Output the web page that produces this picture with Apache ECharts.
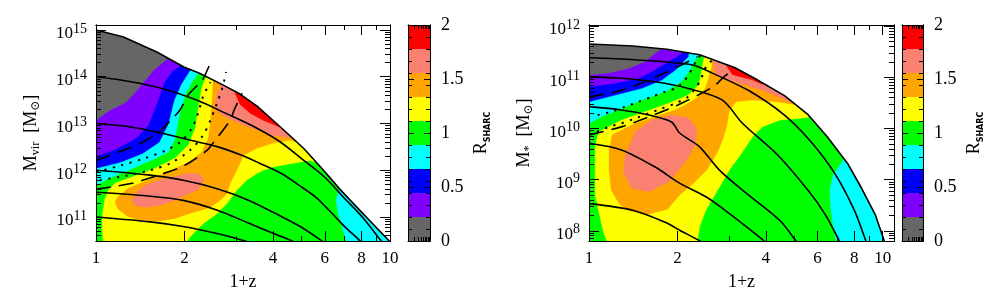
<!DOCTYPE html>
<html><head><meta charset="utf-8">
<script src="https://cdn.jsdelivr.net/npm/echarts@6/dist/echarts.min.js"></script>
<style>html,body{margin:0;padding:0;background:#fff}#c{width:997px;height:305px}</style>
</head><body><div id="c"></div>
<script>
// ---------- tick labels ----------
const xTickLabels = [1, 2, 4, 6, 8, 10];
const xMinorTicks = [3, 5, 7, 9];
const yTicksHalo = [1e11, 1e12, 1e13, 1e14, 1e15];
const yTicksStar = [1e8, 1e9, 1e10, 1e11, 1e12];
const cbTickLabels = [0, 0.5, 1, 1.5, 2];
const cbLevels = [0, 0.222, 0.444, 0.667, 0.889, 1.111, 1.333, 1.556, 1.778, 2];
const cbColors = ['#666666', '#7f00ff', '#0000ff', '#00ffff', '#00ff00', '#ffff00', '#ffa500', '#fa8072', '#ff0000'];

// ---------- left panel (halo mass), points are [1+z, log10 M] ----------
const haloEnvelope = [[1.00,15.00],[1.24,14.85],[1.61,14.53],[1.99,14.21],[2.26,14.07],[2.71,13.82],[3.09,13.63],[3.53,13.37],[4.23,12.93],[5.08,12.47],[5.94,12.00],[6.76,11.59],[7.71,11.21],[8.78,10.84],[10.0,10.47]];
const haloGreen = [[0.9,10.3],[12,10.3],[12,16],[0.9,16]];
const haloYellow = [[2.39,14.6],[2.37,13.99],[2.35,13.95],[2.29,13.76],[2.23,13.33],[2.175,12.90],[2.06,12.535],[1.86,12.26],[1.59,12.04],[1.29,11.83],[1.16,11.72],[1.10,11.57],[1.07,11.36],[1.05,11.04],[1.05,10.72],[1.06,10.46],[1.06,10.3],[2.03,10.3],[2.03,10.46],[2.09,10.57],[2.14,10.64],[2.32,10.86],[2.58,11.07],[2.79,11.29],[3.01,11.57],[3.26,11.79],[3.525,11.93],[3.71,12.00],[4.01,12.07],[4.575,12.14],[5.35,12.21],[5.62,12.16],[5.2,13.0]];
const haloOrange = [[2.50,14.4],[2.50,13.82],[2.48,13.46],[2.45,13.03],[2.41,12.685],[2.29,12.385],[2.06,12.17],[1.76,11.96],[1.505,11.79],[1.29,11.615],[1.19,11.44],[1.16,11.315],[1.19,11.165],[1.28,11.015],[1.41,10.93],[1.63,10.91],[1.86,10.97],[2.09,11.08],[2.26,11.14],[2.45,11.21],[2.645,11.36],[2.79,11.50],[2.86,11.72],[3.01,12.00],[3.09,12.15],[3.17,12.32],[3.53,12.47],[4.00,12.58],[4.575,12.64],[4.83,12.60],[4.6,13.3]];
const haloSalmonBlob = [[1.32,11.34],[1.38,11.53],[1.47,11.68],[1.65,11.79],[1.86,11.87],[2.09,11.94],[2.26,11.91],[2.33,11.79],[2.23,11.59],[2.01,11.465],[1.83,11.34],[1.65,11.25],[1.49,11.21],[1.37,11.23]];
const haloSalmonTop = [[2.66,14.2],[2.645,13.76],[2.58,13.61],[2.54,13.41],[2.60,13.24],[2.815,13.11],[3.09,13.00],[3.53,12.86],[4.00,12.75],[4.66,12.69],[4.4,13.4]];
const haloRed = [[2.97,14.0],[2.97,13.65],[3.09,13.41],[3.345,13.22],[3.70,13.07],[4.23,12.92],[4.1,13.5]];
const haloCyanRight = [[6.71,11.61],[6.555,11.36],[6.66,11.08],[6.87,10.78],[7.145,10.46],[7.2,10.3],[12,10.3],[12,12.5],[6.9,12.2]];
const haloCyan = [[2.3,14.8],[2.24,14.08],[2.12,13.89],[2.01,13.61],[1.91,13.11],[1.86,12.68],[1.765,12.39],[1.59,12.25],[1.29,12.00],[1.10,11.82],[1.0,11.67],[0.9,11.67],[0.9,16],[2.3,16]];
const haloBlue = [[2.12,14.8],[2.09,14.14],[1.95,13.84],[1.845,13.50],[1.76,12.985],[1.64,12.60],[1.44,12.36],[1.21,12.17],[1.0,12.04],[0.9,12.04],[0.9,16],[2.12,16]];
const haloPurple = [[1.97,14.8],[1.95,14.25],[1.82,14.12],[1.71,13.88],[1.62,13.46],[1.505,12.96],[1.37,12.685],[1.15,12.43],[1.0,12.30],[0.9,12.30],[0.9,16],[1.97,16]];
const haloGray = [[1.79,14.8],[1.765,14.40],[1.57,14.14],[1.41,13.78],[1.27,13.46],[1.12,13.29],[1.0,13.07],[0.9,13.07],[0.9,16],[1.79,16]];
const haloTracks = [
  [[1.0,14.0],[1.3,13.9],[1.7,13.74],[2.2,13.5],[2.8,13.2],[3.4,12.95],[4.2,12.62],[5.0,12.25],[6.0,11.85],[7.0,11.4],[8.1,10.98],[9.3,10.5],[9.5,10.42]],
  [[1.0,13.0],[1.3,12.93],[1.68,12.79],[2.1,12.64],[2.6,12.5],[3.1,12.33],[3.6,12.15],[4.3,11.92],[4.9,11.68],[5.6,11.42],[6.3,11.1],[7.0,10.8],[7.9,10.49],[8.1,10.4]],
  [[1.0,12.0],[1.5,11.9],[2.0,11.78],[2.6,11.6],[3.3,11.36],[4.3,11.0],[5.0,10.78],[5.86,10.49],[6.0,10.44]],
  [[1.0,11.53],[1.5,11.45],[2.0,11.35],[2.6,11.14],[3.3,10.87],[4.0,10.65],[4.63,10.49],[4.8,10.44]],
  [[1.0,11.0],[1.53,10.895],[2.0,10.79],[2.58,10.645],[3.2,10.49],[3.35,10.44]]
];
const haloDashed = [
  [[1.0,12.21],[1.29,12.47],[1.44,12.60],[1.63,12.81],[1.82,13.11],[1.93,13.285],[2.06,13.61],[2.30,13.93],[2.39,14.14],[2.45,14.29]],
  [[1.0,11.59],[1.33,11.72],[1.45,11.79],[1.90,12.04],[2.09,12.17],[2.39,12.43],[2.50,12.58],[2.86,13.07],[2.95,13.285],[3.14,13.65]]
];
const haloDotted = [
  [[1.0,11.96],[1.21,12.1],[1.47,12.26],[1.72,12.42],[1.93,12.6],[2.12,12.9],[2.23,13.24],[2.315,13.585],[2.45,13.88]],
  [[1.03,11.79],[1.26,11.88],[1.53,12.0],[1.79,12.15],[2.09,12.43],[2.315,12.75],[2.45,13.07],[2.58,13.435],[2.69,13.76],[2.77,14.1]]
];

// ---------- right panel (stellar mass), points are [1+z, log10 M] ----------
const starEnvelope = [[1.0,11.65],[1.41,11.61],[1.84,11.545],[2.38,11.44],[3.13,11.19],[3.66,10.98],[4.63,10.64],[5.545,10.28],[6.485,9.83],[7.585,9.32],[8.46,8.84],[9.445,8.31],[10.13,7.80]];
const starGreen = [[0.9,7.5],[12,7.5],[12,13],[0.9,13]];
const starYellow = [[2.5,12.2],[2.49,11.436],[2.455,11.34],[2.42,11.11],[2.36,10.85],[2.18,10.654],[1.87,10.49],[1.555,10.327],[1.295,10.164],[1.08,9.935],[1.05,9.675],[1.05,9.35],[1.05,8.70],[1.087,8.305],[1.12,7.97],[1.15,7.80],[1.15,7.6],[2.34,7.6],[2.34,7.78],[2.38,8.08],[2.50,8.40],[2.70,8.73],[3.01,9.19],[3.25,9.45],[3.61,9.84],[3.90,10.03],[4.45,10.16],[5.26,10.20],[5.6,10.22],[5.3,11.0]];
const starOrange = [[2.62,12.2],[2.62,11.21],[2.59,11.11],[2.555,10.98],[2.49,10.785],[2.36,10.62],[2.18,10.49],[1.97,10.36],[1.68,10.23],[1.40,10.07],[1.20,9.87],[1.17,9.58],[1.17,9.19],[1.19,8.795],[1.27,8.52],[1.375,8.385],[1.58,8.32],[1.85,8.42],[2.035,8.70],[2.25,8.91],[2.52,9.19],[2.73,9.52],[2.85,9.77],[2.94,10.03],[3.01,10.36],[3.17,10.52],[3.59,10.556],[4.34,10.52],[5.07,10.46],[4.9,11.2]];
const starSalmonBlob = [[1.33,9.48],[1.44,9.935],[1.64,10.164],[1.92,10.262],[2.18,10.20],[2.33,10.00],[2.30,9.675],[2.13,9.35],[1.87,8.957],[1.60,8.76],[1.40,8.83],[1.31,9.15]];
const starSalmonTop = [[2.66,12.2],[2.66,11.34],[2.68,11.15],[2.72,11.04],[3.25,10.88],[3.90,10.75],[4.82,10.52],[5.0,10.50],[4.8,11.2]];
const starRed = [[2.9,12.0],[2.92,11.25],[3.08,11.05],[3.59,10.95],[3.88,10.86],[3.95,11.5]];
const starCyanRight = [[7.35,9.38],[6.78,9.09],[6.61,8.795],[6.66,8.44],[6.78,8.11],[6.95,7.80],[6.95,7.5],[12,7.5],[12,10.5],[7.5,10.5]];
const starCyan = [[2.4,12.2],[2.36,11.40],[2.30,11.34],[2.21,11.143],[2.07,10.914],[1.82,10.718],[1.515,10.556],[1.295,10.393],[1.107,10.23],[1.0,10.10],[0.9,10.10],[0.9,12.2]];
const starBlue = [[2.2,12.2],[2.18,11.403],[2.10,11.305],[1.97,11.143],[1.77,10.947],[1.515,10.785],[1.23,10.65],[1.0,10.52],[0.9,10.52],[0.9,12.2]];
const starPurple = [[2.1,12.2],[2.07,11.47],[1.99,11.40],[1.82,11.27],[1.64,11.11],[1.475,10.98],[1.23,10.88],[1.0,10.816],[0.9,10.816],[0.9,12.2]];
const starGray = [[1.78,12.2],[1.75,11.534],[1.68,11.47],[1.555,11.305],[1.37,11.176],[1.17,11.08],[1.0,11.045],[0.9,11.045],[0.9,12.2]];
const starTracks = [
  [[1.0,11.38],[1.43,11.34],[2.25,11.24],[2.63,11.08],[3.52,10.73],[4.63,10.26],[5.68,9.75],[6.85,9.13],[8.01,8.40],[8.77,7.80],[8.9,7.7]],
  [[1.0,11.006],[1.29,10.98],[1.68,10.91],[2.18,10.78],[2.84,10.556],[3.33,10.10],[4.39,9.48],[5.63,8.755],[6.4,8.30],[7.12,7.80],[7.25,7.7]],
  [[1.0,10.425],[1.29,10.36],[1.60,10.262],[1.91,10.125],[2.035,9.91],[2.38,9.64],[2.78,9.186],[3.43,8.736],[4.45,8.21],[5.07,7.80],[5.2,7.7]],
  [[1.0,9.71],[1.29,9.58],[1.68,9.245],[2.035,8.93],[2.51,8.66],[3.0,8.34],[3.99,7.78],[4.1,7.7]],
  [[1.0,8.53],[1.41,8.40],[1.84,8.15],[2.035,8.01],[2.42,7.78],[2.5,7.7]]
];
const starDashed = [
  [[1.0,10.615],[1.25,10.72],[1.45,10.85],[1.63,10.967],[1.81,11.084],[2.0,11.20],[2.2,11.32],[2.34,11.40]],
  [[1.0,9.87],[1.29,10.03],[1.44,10.125],[1.87,10.38],[2.05,10.48],[2.64,10.81],[2.85,10.98],[3.08,11.143]]
];
const starDotted = [
  [[1.07,10.26],[1.20,10.33],[1.33,10.425],[1.475,10.52],[1.64,10.62],[1.82,10.718],[1.97,10.785],[2.10,10.914],[2.18,11.045],[2.25,11.176],[2.33,11.34],[2.40,11.436]],
  [[1.065,9.935],[1.17,10.03],[1.29,10.10],[1.44,10.196],[1.60,10.295],[1.77,10.39],[1.97,10.49],[2.18,10.62],[2.30,10.785],[2.40,10.947],[2.46,11.11],[2.54,11.26],[2.65,11.34]]
];

// ---------- helpers ----------
const FONT = "'Liberation Serif','DejaVu Serif',serif";
const BLACK = '#000';
const toVals = a => a.map(p => [p[0], Math.pow(10, p[1])]);
function minorLog(lo, hi) { const t = []; for (let e = lo; e <= hi; e++) for (let k = 2; k <= 9; k++) t.push(k * Math.pow(10, e)); return t; }

function xAx(grid, pos, max, ticks, len, labels) {
  const a = { type: 'log', logBase: 10, gridIndex: grid, position: pos, min: 1, max: max, z: 10,
    axisLine: { show: true, onZero: false, lineStyle: { color: BLACK, width: 1 } },
    axisTick: { show: true, inside: true, length: len, customValues: ticks, lineStyle: { color: BLACK, width: 1 } },
    axisLabel: { show: false }, splitLine: { show: false }, minorTick: { show: false } };
  if (labels) {
    a.axisLabel = { show: true, customValues: xTickLabels, margin: 9, color: BLACK, fontFamily: FONT, fontSize: 17,
      formatter: v => String(Math.round(v)) };
    a.name = '1+z'; a.nameLocation = 'middle'; a.nameGap = 32;
    a.nameTextStyle = { color: BLACK, fontFamily: FONT, fontSize: 18 };
  }
  return a;
}
function yAx(grid, pos, min, max, ticks, len, labelVals, name) {
  const a = { type: 'log', logBase: 10, gridIndex: grid, position: pos, min: min, max: max, z: 10,
    axisLine: { show: true, onZero: false, lineStyle: { color: BLACK, width: 1 } },
    axisTick: { show: true, inside: true, length: len, customValues: ticks, lineStyle: { color: BLACK, width: 1 } },
    axisLabel: { show: false }, splitLine: { show: false }, minorTick: { show: false } };
  if (labelVals) {
    a.axisLabel = { show: true, customValues: labelVals, margin: 9, padding: [8, 0, 0, 0],
      formatter: v => '{b|10}{s|' + Math.round(Math.log10(v)) + '}',
      rich: { b: { fontFamily: FONT, fontSize: 17, color: BLACK, lineHeight: 24 },
              s: { fontFamily: FONT, fontSize: 14, color: BLACK, lineHeight: 14, verticalAlign: 'top' } } };
    a.name = name; a.nameLocation = 'middle'; a.nameRotate = 90; a.nameGap = 54;
    a.nameTextStyle = { rich: {
      m: { fontFamily: FONT, fontSize: 18, color: BLACK, lineHeight: 22 },
      sub: { fontFamily: FONT, fontSize: 12, color: BLACK, lineHeight: 11, verticalAlign: 'bottom' } } };
  }
  return a;
}
function cbX(grid, pos) {
  return { type: 'log', logBase: 10, gridIndex: grid, position: pos, min: 1, max: 10, z: 10,
    axisLine: { show: true, onZero: false, lineStyle: { color: BLACK, width: 1 } },
    axisTick: { show: true, inside: true, length: 4, customValues: [2, 3, 4, 5, 6, 7, 8, 9], lineStyle: { color: BLACK } },
    axisLabel: { show: false }, splitLine: { show: false } };
}
const cbMinor = cbLevels.concat([0.111, 0.333, 0.556, 0.778, 1.0, 1.222, 1.444, 1.667, 1.889]);
function cbY(grid, pos, ticks, len, labels) {
  const a = { type: 'value', gridIndex: grid, position: pos, min: 0, max: 2, z: 10,
    axisLine: { show: true, onZero: false, lineStyle: { color: BLACK, width: 1 } },
    axisTick: { show: true, inside: true, length: len, customValues: ticks, lineStyle: { color: BLACK } },
    axisLabel: { show: false }, splitLine: { show: false } };
  if (labels) {
    a.axisLabel = { show: true, customValues: cbTickLabels, margin: 11, color: BLACK, fontFamily: FONT, fontSize: 18,
      formatter: v => String(v) };
    a.name = '{r|R}{sub|SHARC}'; a.nameLocation = 'middle'; a.nameRotate = 90; a.nameGap = 40;
    a.nameTextStyle = { rich: {
      r: { fontFamily: FONT, fontSize: 18, color: BLACK, lineHeight: 22 },
      sub: { fontFamily: "'DejaVu Sans',sans-serif", fontSize: 8, fontWeight: 'bold', color: BLACK, lineHeight: 9, verticalAlign: 'bottom' } } };
  }
  return a;
}

function regionSeries(xi, yi, anchor, poly, color) {
  const P = toVals(poly);
  return { type: 'custom', xAxisIndex: xi, yAxisIndex: yi, clip: true, silent: true, z: 2, data: [anchor],
    renderItem: (params, api) => ({ type: 'polygon', shape: { points: P.map(p => api.coord(p)) },
      style: { fill: color, stroke: color, lineWidth: 0.4 } }) };
}
function lineSeries(xi, yi, pts, type, width, smooth) {
  return { type: 'line', xAxisIndex: xi, yAxisIndex: yi, data: toVals(pts), showSymbol: false, symbol: 'none',
    smooth: smooth, silent: true, clip: true, z: 3,
    lineStyle: { color: BLACK, width: width, type: type, cap: 'butt' } };
}
function cbSeries(xi, yi) {
  const bands = cbColors.map((c, i) => [cbLevels[i], cbLevels[i + 1], i]);
  return { type: 'custom', xAxisIndex: xi, yAxisIndex: yi, silent: true, z: 2, data: bands,
    renderItem: (params, api) => {
      const a = api.coord([1, api.value(0)]), b = api.coord([10, api.value(1)]);
      return { type: 'rect', shape: { x: a[0], y: b[1], width: b[0] - a[0], height: a[1] - b[1] },
        style: { fill: cbColors[api.value(2)] } };
    } };
}

const C = cbColors;
function panelSeries(xi, yi, anchor, regs, env, tracks, dashed, dotted) {
  const s = [];
  regs.forEach(r => s.push(regionSeries(xi, yi, anchor, r[0], r[1])));
  const last = env[env.length - 1];
  const mask = [[0.9, env[0][1]]].concat(env, [[last[0] + 0.2, last[1] - 0.4], [12, last[1] - 0.4], [12, 17], [0.9, 17]]);
  s.push(regionSeries(xi, yi, anchor, mask, '#ffffff'));
  s.push(lineSeries(xi, yi, env, 'solid', 1.6, false));
  tracks.forEach(t => s.push(lineSeries(xi, yi, t, 'solid', 1.6, 0.3)));
  dashed.forEach(t => s.push(lineSeries(xi, yi, t, [15, 8], 1.6, 0.3)));
  dotted.forEach(t => s.push(lineSeries(xi, yi, t, [2.2, 6.5], 2, 0.3)));
  return s;
}

const haloMin = Math.pow(10, 10.486), haloMax = Math.pow(10, 15.107);
const starMin = Math.pow(10, 7.80), starMax = Math.pow(10, 12.02);

const option = {
  animation: false,
  backgroundColor: '#ffffff',
  grid: [
    { left: 96, top: 25, width: 294, height: 216, outerBoundsMode: 'none' },
    { left: 589, top: 25, width: 305, height: 216, outerBoundsMode: 'none' },
    { left: 408, top: 25, width: 22, height: 216, outerBoundsMode: 'none' },
    { left: 902, top: 25, width: 21, height: 216, outerBoundsMode: 'none' }
  ],
  xAxis: [
    xAx(0, 'bottom', 10, xTickLabels, 10, true), xAx(0, 'bottom', 10, xMinorTicks, 5, false),
    xAx(0, 'top', 10, xTickLabels, 10, false), xAx(0, 'top', 10, xMinorTicks, 5, false),
    xAx(1, 'bottom', 10.93, xTickLabels, 10, true), xAx(1, 'bottom', 10.93, xMinorTicks, 5, false),
    xAx(1, 'top', 10.93, xTickLabels, 10, false), xAx(1, 'top', 10.93, xMinorTicks, 5, false),
    cbX(2, 'bottom'), cbX(2, 'top'), cbX(3, 'bottom'), cbX(3, 'top')
  ],
  yAxis: [
    yAx(0, 'left', haloMin, haloMax, yTicksHalo, 10, yTicksHalo, '{m|M}{sub|vir}{m|  [M}{sub|⊙}{m|]}'),
    yAx(0, 'left', haloMin, haloMax, minorLog(10, 15), 5, null, null),
    yAx(0, 'right', haloMin, haloMax, yTicksHalo, 10, null, null),
    yAx(0, 'right', haloMin, haloMax, minorLog(10, 15), 5, null, null),
    yAx(1, 'left', starMin, starMax, yTicksStar, 10, yTicksStar, '{m|M}{sub|*}{m|  [M}{sub|⊙}{m|]}'),
    yAx(1, 'left', starMin, starMax, minorLog(7, 12), 5, null, null),
    yAx(1, 'right', starMin, starMax, yTicksStar, 10, null, null),
    yAx(1, 'right', starMin, starMax, minorLog(7, 12), 5, null, null),
    cbY(2, 'left', cbTickLabels, 6, false), cbY(2, 'left', cbMinor, 4, false),
    cbY(2, 'right', cbTickLabels, 6, true), cbY(2, 'right', cbMinor, 4, false),
    cbY(3, 'left', cbTickLabels, 6, false), cbY(3, 'left', cbMinor, 4, false),
    cbY(3, 'right', cbTickLabels, 6, true), cbY(3, 'right', cbMinor, 4, false)
  ],
  series: [].concat(
    panelSeries(0, 0, [2, 1e12], [
      [haloGreen, C[4]], [haloYellow, C[5]], [haloOrange, C[6]], [haloSalmonBlob, C[7]], [haloSalmonTop, C[7]],
      [haloRed, C[8]], [haloCyanRight, C[3]], [haloCyan, C[3]], [haloBlue, C[2]], [haloPurple, C[1]], [haloGray, C[0]]
    ], haloEnvelope, haloTracks, haloDashed, haloDotted),
    panelSeries(4, 4, [2, 1e10], [
      [starGreen, C[4]], [starYellow, C[5]], [starOrange, C[6]], [starSalmonBlob, C[7]], [starSalmonTop, C[7]],
      [starRed, C[8]], [starCyanRight, C[3]], [starCyan, C[3]], [starBlue, C[2]], [starPurple, C[1]], [starGray, C[0]]
    ], starEnvelope, starTracks, starDashed, starDotted),
    [cbSeries(8, 8), cbSeries(10, 12)]
  )
};
const chart = echarts.init(document.getElementById('c'), null, { renderer: 'canvas' });
chart.setOption(option);
</script>
</body></html>
